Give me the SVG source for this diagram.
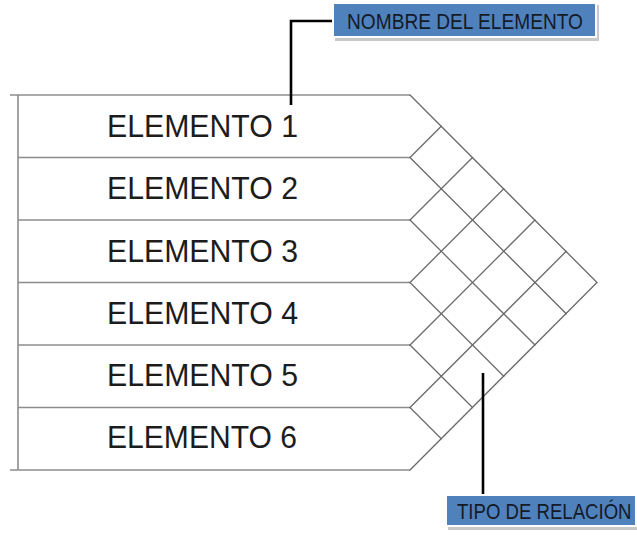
<svg xmlns="http://www.w3.org/2000/svg" width="637" height="535" viewBox="0 0 637 535">
  <style>
    .row { stroke: #8c8c8c; stroke-width: 1.6; fill: none; }
    .grid { stroke: #6a6a6a; stroke-width: 1.3; fill: none; stroke-linecap: round; }
    .lbl { font-family: "Liberation Sans", Arial, sans-serif; font-size: 32px; fill: #1c1c1c; }
    .tag { fill: #4f81bd; stroke: #ffffff; stroke-width: 2; }
    .shadow { fill: #c8c8c8; }
    .tagtext { font-family: "Liberation Sans", Arial, sans-serif; font-size: 22px; fill: #141a26; }
    .conn { stroke: #000000; stroke-width: 2.6; fill: none; }
  </style>
  <rect width="637" height="535" fill="#ffffff"/>

  <g id="frame">
    <line class="row" x1="18" y1="95" x2="18" y2="470"/>
    <line class="row" x1="10" y1="95" x2="410" y2="95"/>
    <line class="row" x1="18" y1="157.5" x2="410" y2="157.5"/>
    <line class="row" x1="18" y1="220" x2="410" y2="220"/>
    <line class="row" x1="18" y1="282.5" x2="410" y2="282.5"/>
    <line class="row" x1="18" y1="345" x2="410" y2="345"/>
    <line class="row" x1="18" y1="407.5" x2="410" y2="407.5"/>
    <line class="row" x1="10" y1="470" x2="410" y2="470"/>
  </g>

  <g id="matrix">
    <polyline class="grid" points="410,95 597,282.5 410,470"/>
    <line class="grid" x1="410" y1="157.5" x2="566.25" y2="313.75"/>
    <line class="grid" x1="410" y1="220" x2="535" y2="345"/>
    <line class="grid" x1="410" y1="282.5" x2="503.75" y2="376.25"/>
    <line class="grid" x1="410" y1="345" x2="472.5" y2="407.5"/>
    <line class="grid" x1="410" y1="407.5" x2="441.25" y2="438.75"/>
    <line class="grid" x1="410" y1="157.5" x2="441.25" y2="126.25"/>
    <line class="grid" x1="410" y1="220" x2="472.5" y2="157.5"/>
    <line class="grid" x1="410" y1="282.5" x2="503.75" y2="188.75"/>
    <line class="grid" x1="410" y1="345" x2="535" y2="220"/>
    <line class="grid" x1="410" y1="407.5" x2="566.25" y2="251.25"/>
  </g>

  <g id="elemento1"><text class="lbl" x="107" y="137" textLength="191" lengthAdjust="spacingAndGlyphs">ELEMENTO 1</text></g>
  <g id="elemento2"><text class="lbl" x="107" y="199" textLength="191" lengthAdjust="spacingAndGlyphs">ELEMENTO 2</text></g>
  <g id="elemento3"><text class="lbl" x="107" y="261.5" textLength="191" lengthAdjust="spacingAndGlyphs">ELEMENTO 3</text></g>
  <g id="elemento4"><text class="lbl" x="107" y="324" textLength="191" lengthAdjust="spacingAndGlyphs">ELEMENTO 4</text></g>
  <g id="elemento5"><text class="lbl" x="107" y="386" textLength="191" lengthAdjust="spacingAndGlyphs">ELEMENTO 5</text></g>
  <g id="elemento6"><text class="lbl" x="107" y="447.5" textLength="190" lengthAdjust="spacingAndGlyphs">ELEMENTO 6</text></g>

  <g id="connectors">
    <path class="conn" d="M334,21 H291 V105"/>
    <path class="conn" d="M483,373 V495"/>
  </g>

  <g id="nombre-del-elemento">
    <rect class="shadow" x="335" y="5" width="264" height="36"/>
    <rect class="tag" x="333" y="3" width="263" height="34"/>
    <text class="tagtext" x="347" y="29" textLength="236" lengthAdjust="spacingAndGlyphs">NOMBRE DEL ELEMENTO</text>
  </g>

  <g id="tipo-de-relacion">
    <rect class="shadow" x="448" y="497" width="189" height="33"/>
    <rect class="tag" x="446" y="495" width="190" height="31"/>
    <text class="tagtext" transform="translate(457,519) scale(1,1.18)" x="0" y="0" style="font-size:18.6px">TIPO DE RELACIÓN</text>
  </g>
</svg>
